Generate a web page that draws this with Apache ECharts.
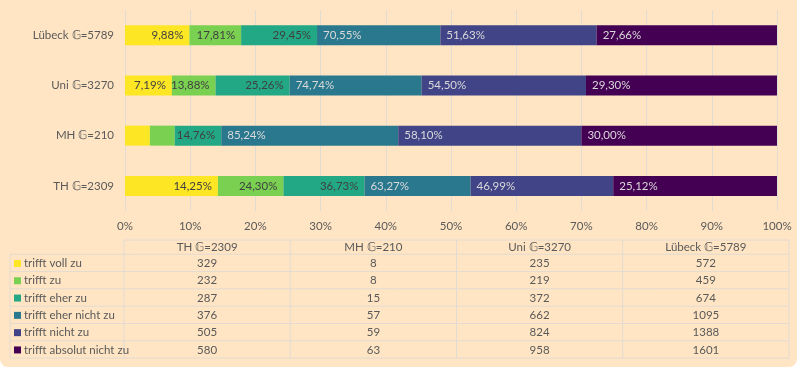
<!DOCTYPE html>
<html><head><meta charset="utf-8">
<script src="https://cdn.jsdelivr.net/npm/echarts@6/dist/echarts.min.js"></script>
<style>html,body{margin:0;padding:0;background:#ffffff;}#c{width:800px;height:369px;}</style>
</head><body><div id="c"></div>
<script>
const categories = ['TH 𝔾=2309', 'MH 𝔾=210', 'Uni 𝔾=3270', 'Lübeck 𝔾=5789'];
const seriesNames = ['trifft voll zu', 'trifft zu', 'trifft eher zu', 'trifft eher nicht zu', 'trifft nicht zu', 'trifft absolut nicht zu'];
const trifftVollZu = [329, 8, 235, 572];
const trifftZu = [232, 8, 219, 459];
const trifftEherZu = [287, 15, 372, 674];
const trifftEherNichtZu = [376, 57, 662, 1095];
const trifftNichtZu = [505, 59, 824, 1388];
const trifftAbsolutNichtZu = [580, 63, 958, 1601];
const xTickLabels = ['0%','10%','20%','30%','40%','50%','60%','70%','80%','90%','100%'];
const colors = ['#FDE725', '#7AD151', '#22A884', '#2A788E', '#414487', '#440154'];

const counts = [trifftVollZu, trifftZu, trifftEherZu, trifftEherNichtZu, trifftNichtZu, trifftAbsolutNichtZu];
const totals = categories.map((c, j) => counts.reduce((s, a) => s + a[j], 0));
const pct = counts.map(a => a.map((v, j) => v / totals[j] * 100));
function fmt(v){ return v.toFixed(2).replace('.', ',') + '%'; }
function cumLabel(i, j){
  let s = 0;
  if (i < 3) { for (let k = 0; k <= i; k++) s += counts[k][j]; }
  else { for (let k = i; k < 6; k++) s += counts[k][j]; }
  return fmt(s / totals[j] * 100);
}

const FONT = 'Lato, "Open Sans", sans-serif';
const FS = 11.5;
const TXT = '#595959';
const GRIDC = '#E2DBD2';

const series = seriesNames.map((name, i) => ({
  name, type: 'bar', stack: 'all', barWidth: 20,
  itemStyle: { color: colors[i] },
  data: pct[i],
  label: {
    show: true,
    position: i < 3 ? 'insideRight' : 'insideLeft',
    distance: 6,
    color: i < 3 ? '#404040' : '#D9D9D9',
    fontFamily: FONT, fontSize: FS,
    formatter: p => (p.value < 6 ? '' : cumLabel(i, p.dataIndex))
  }
}));

// table layout
const tL = 124, tR = 789, legL = 10;
const colW = (tR - tL) / categories.length;
const rowY = [240, 254.3, 271.6, 288.9, 306.2, 323.5, 340.8, 358.1];
const g = [];
g.push({ type: 'rect', z: -10, shape: { x: 0, y: -20, width: 797, height: 387, r: 8 }, style: { fill: '#FFE5C4' } });
const ls = { stroke: GRIDC, lineWidth: 1 };
g.push({ type: 'line', shape: { x1: tL, y1: rowY[0], x2: tR, y2: rowY[0] }, style: ls });
for (let r = 1; r < rowY.length; r++) g.push({ type: 'line', shape: { x1: legL, y1: rowY[r], x2: tR, y2: rowY[r] }, style: ls });
g.push({ type: 'line', shape: { x1: legL, y1: rowY[1], x2: legL, y2: rowY[7] }, style: ls });
for (let c = 0; c <= categories.length; c++) g.push({ type: 'line', shape: { x1: tL + c * colW, y1: rowY[0], x2: tL + c * colW, y2: rowY[7] }, style: ls });
categories.forEach((cat, c) => g.push({ type: 'text', x: tL + (c + 0.5) * colW, y: (rowY[0] + rowY[1]) / 2 + 0.5,
  style: { text: cat, fill: TXT, font: FS + 'px ' + FONT, align: 'center', verticalAlign: 'middle' } }));
seriesNames.forEach((name, i) => {
  const yc = (rowY[i + 1] + rowY[i + 2]) / 2 + 0.5;
  g.push({ type: 'rect', shape: { x: 14, y: yc - 3.5, width: 7, height: 7 }, style: { fill: colors[i] } });
  g.push({ type: 'text', x: 24, y: yc, style: { text: name, fill: TXT, font: FS + 'px ' + FONT, align: 'left', verticalAlign: 'middle' } });
  categories.forEach((cat, c) => g.push({ type: 'text', x: tL + (c + 0.5) * colW, y: yc,
    style: { text: String(counts[i][c]), fill: TXT, font: FS + 'px ' + FONT, align: 'center', verticalAlign: 'middle' } }));
});

const chart = echarts.init(document.getElementById('c'), null, { renderer: 'canvas' });
chart.setOption({
  backgroundColor: 'transparent',
  animation: false,
  grid: { left: 125, right: 23, top: 10, bottom: 158, containLabel: false },
  xAxis: { type: 'value', min: 0, max: 100, interval: 10,
    axisLine: { show: false }, axisTick: { show: false },
    splitLine: { lineStyle: { color: GRIDC, width: 1 } },
    axisLabel: { color: TXT, fontFamily: FONT, fontSize: FS, margin: 9,
      formatter: v => xTickLabels[Math.round(v / 10)] } },
  yAxis: { type: 'category', data: categories,
    axisLine: { show: false }, axisTick: { show: false },
    axisLabel: { color: TXT, fontFamily: FONT, fontSize: FS, margin: 11 } },
  series,
  graphic: g
});
</script></body></html>
